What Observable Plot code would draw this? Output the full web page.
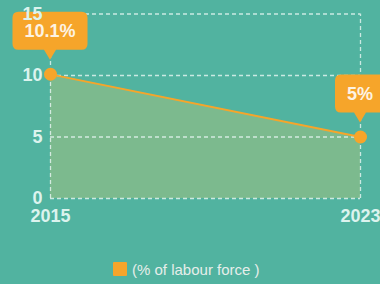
<!DOCTYPE html>
<html>
<head>
<meta charset="utf-8">
<script src="https://cdn.jsdelivr.net/npm/d3@7"></script>
<script src="https://cdn.jsdelivr.net/npm/@observablehq/plot@0.6"></script>
<style>
  html, body { margin: 0; padding: 0; background: #51b3a0; width: 380px; height: 284px; overflow: hidden; }
  #chart svg { display: block; background: transparent; }
  #legend { display: flex; align-items: center; justify-content: flex-start; height: 16px; margin-top: 11px;
    font: 15px "Liberation Sans", Arial, sans-serif; color: #e6eeea; padding-left: 113px; }
  #legend .sw { width: 14px; height: 14px; background: #f6a52a; margin-right: 5px; border-radius: 1px; }
</style>
</head>
<body>
<div id="chart"></div>
<div id="legend"><span class="sw"></span><span id="legend-text"></span></div>
<script>
const years = [2015, 2023];
const values = [10.1, 5];
const pointLabels = ["10.1%", "5%"];
const yTicks = [0, 5, 10, 15];
const legendLabel = "(% of labour force )";

document.getElementById("legend-text").textContent = legendLabel;

const data = years.map((year, i) => ({year, value: values[i], label: pointLabels[i]}));

const ORANGE = "#f6a52a";
const TEXT = "#dcf3ee";
const FONT = '"Liberation Sans", Arial, sans-serif';

function callouts(index, scales, channels, dims, context) {
  const g = d3.create("svg:g");
  const canvas = document.createElement("canvas");
  const ctx = canvas.getContext("2d");
  ctx.font = `bold 18px ${FONT}`;
  for (const d of data) {
    const px = scales.x(d.year), py = scales.y(d.value);
    const w = ctx.measureText(d.label).width + 24;
    const h = 38, r = 6, ph = 10, pw = 6, gap = 14;
    const bottom = py - gap - ph, top = bottom - h;
    const l = px - w / 2, rt = px + w / 2;
    const path = `M${l + r},${top} H${rt - r} Q${rt},${top} ${rt},${top + r} V${bottom - r} Q${rt},${bottom} ${rt - r},${bottom}
      H${px + pw} L${px},${bottom + ph} L${px - pw},${bottom} H${l + r} Q${l},${bottom} ${l},${bottom - r} V${top + r} Q${l},${top} ${l + r},${top} Z`;
    g.append("path").attr("d", path).attr("fill", ORANGE);
    g.append("text").attr("x", px).attr("y", top + h / 2).attr("dy", "0.35em")
      .attr("text-anchor", "middle").attr("fill", "#fdf3e3")
      .attr("font-size", 18).attr("font-weight", "bold").attr("font-family", FONT)
      .text(d.label);
  }
  return g.node();
}

const chart = Plot.plot({
  width: 380,
  height: 250,
  marginLeft: 50,
  marginRight: 20,
  marginTop: 13.5,
  marginBottom: 52,
  style: {background: "transparent", fontFamily: FONT, color: TEXT, overflow: "visible"},
  x: {domain: [2015, 2023]},
  y: {domain: [0, 15]},
  marks: [
    Plot.areaY(data, {x: "year", y: "value", fill: "#7cba8e"}),
    Plot.ruleY(yTicks, {stroke: "#e8f6f2", strokeDasharray: "4,3", strokeOpacity: 0.8, strokeWidth: 1.3}),
    Plot.ruleX(years, {stroke: "#e8f6f2", strokeDasharray: "4,3", strokeOpacity: 0.8, strokeWidth: 1.3, y1: 0, y2: 15}),
    Plot.line(data, {x: "year", y: "value", stroke: ORANGE, strokeWidth: 1.8}),
    Plot.dot(data, {x: "year", y: "value", r: 6.5, fill: ORANGE}),
    callouts,
    Plot.axisY(yTicks, {tickSize: 0, tickPadding: 8, fontSize: 18, fontWeight: "bold", fill: TEXT, label: null}),
    Plot.axisX(years, {tickSize: 0, tickPadding: 11, fontSize: 18, fontWeight: "bold", fill: TEXT, tickFormat: d => String(d), label: null})
  ]
});
document.getElementById("chart").appendChild(chart);
</script>
</body>
</html>
